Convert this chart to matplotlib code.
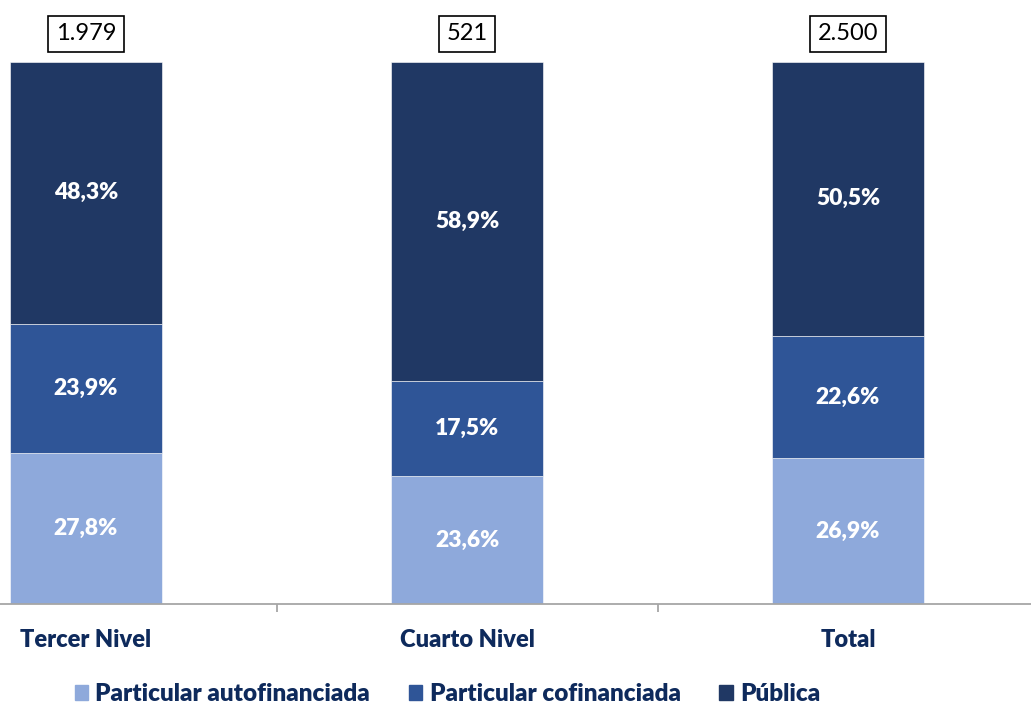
import numpy as np
import matplotlib
matplotlib.use('Agg')
import matplotlib.pyplot as plt
from matplotlib.patches import Patch

plt.rcParams['font.family'] = ['Lato', 'DejaVu Sans']

categories = ['Tercer Nivel', 'Cuarto Nivel', 'Total']
totals = ['1.979', '521', '2.500']
series = ['Particular autofinanciada', 'Particular cofinanciada', 'Pública']
autofin = [27.8, 23.6, 26.9]
cofin = [23.9, 17.5, 22.6]
publica = [48.3, 58.9, 50.5]
colors = ['#8EA9DB', '#2F5597', '#203864']
navy = '#0E2A5C'

W, H = 1031, 706
fig = plt.figure(figsize=(W / 100, H / 100), dpi=100)
# bar centres at 86, 467, 848 px; baseline at y=604, 100% at y=62
ax = fig.add_axes([0, (H - 604) / H, 1, 542 / H])
step = 381.0
ax.set_xlim(-86 / step, (W - 86) / step)
ax.set_ylim(0, 100)

x = np.arange(len(categories))
bottom = np.zeros(len(categories))
for vals, col in zip([autofin, cofin, publica], colors):
    vals = np.array(vals)
    ax.bar(x, vals, bottom=bottom, width=0.4, color=col, edgecolor='#FFFFFF',
           linewidth=0.4)
    for xi, b, v in zip(x, bottom, vals):
        ax.text(xi, b + v / 2, f'{v:.1f}%'.replace('.', ','), ha='center',
                va='center', color='white', fontsize=16.5, fontweight='heavy')
    bottom += vals

for xi, t in zip(x, totals):
    ax.text(xi, 105.2, t, ha='center', va='center', fontsize=17, color='black',
            bbox=dict(boxstyle='square,pad=0.32', fc='white', ec='black', lw=1.2),
            clip_on=False)

for s in ['top', 'right', 'left']:
    ax.spines[s].set_visible(False)
ax.spines['bottom'].set_color('#A6A6A6')
ax.spines['bottom'].set_linewidth(1.3)
ax.set_yticks([])
ax.set_xticks([0.5, 1.5])
ax.set_xticklabels([])
ax.tick_params(axis='x', length=6, color='#A6A6A6', width=1.3)
for xi, c in zip(x, categories):
    ax.annotate(c, (xi, 0), xytext=(0, -26), textcoords='offset points',
                ha='center', va='center', fontsize=17, fontweight='heavy',
                color=navy, annotation_clip=False)

handles = [Patch(color=c) for c in colors]
fig.legend(handles, series, loc='center', bbox_to_anchor=(0.434, (H - 694) / H),
           ncol=3, frameon=False, handlelength=0.55, handleheight=0.55,
           handletextpad=0.3, columnspacing=1.6,
           prop={'size': 17.5, 'weight': 'heavy'}, labelcolor=navy)

fig.savefig('out.png', dpi=100)
